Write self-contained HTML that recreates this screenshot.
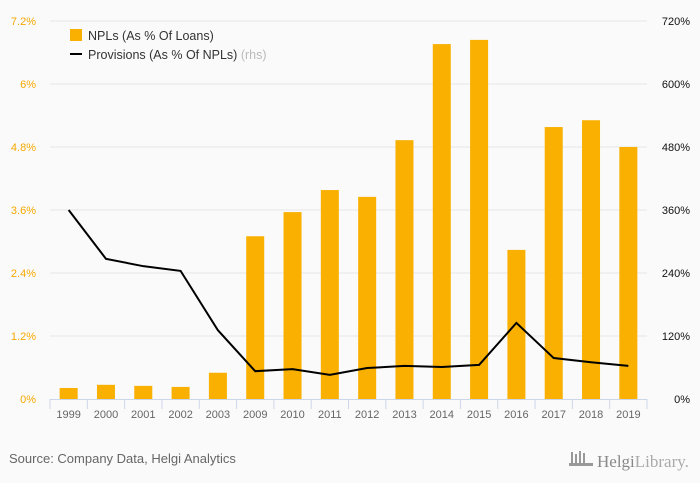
<!DOCTYPE html>
<html><head><meta charset="utf-8"><style>
body{margin:0;background:#fafafa;font-family:"Liberation Sans","DejaVu Sans",sans-serif;}
svg{display:block}
</style></head><body>
<svg id="chart" width="700" height="483" xmlns="http://www.w3.org/2000/svg">
<rect x="0" y="0" width="700" height="483" fill="#fafafa"/>
<g id="grid"></g>
<g id="bars"></g>
<g id="xaxis"></g>
<g id="yl"></g>
<g id="yr"></g>
<path id="line" fill="none" stroke="#000" stroke-width="2"/>
<g>
<rect x="70" y="29" width="12" height="12" fill="#f9b000"/>
<text x="88" y="40" font-size="12.5" fill="#333">NPLs (As % Of Loans)</text>
<rect x="70" y="53" width="12" height="2" fill="#000"/>
<text x="88" y="59" font-size="12.5" fill="#333">Provisions (As % Of NPLs) <tspan fill="#bbb">(rhs)</tspan></text>
</g>
<text x="9" y="463" font-size="13" fill="#666">Source: Company Data, Helgi Analytics</text>
<g>
<g fill="#999"><rect x="571" y="452" width="2" height="12"/><rect x="575" y="454" width="2" height="10"/><rect x="579" y="451" width="2" height="13"/><rect x="583" y="453" width="2" height="11"/><rect x="569" y="463" width="24" height="3"/></g>
<text x="597" y="467" font-size="17" fill="#888" font-family="Liberation Serif,serif">Helgi<tspan fill="#aaa">Library.</tspan></text>
</g>
</svg>
<script>
const years=['1999','2000','2001','2002','2003','2009','2010','2011','2012','2013','2014','2015','2016','2017','2018','2019'];
const npl=[0.21,0.27,0.25,0.23,0.50,3.10,3.56,3.98,3.85,4.93,6.76,6.84,2.84,5.18,5.31,4.80];
const prov=[360,267,253,244,131,53,57,46,59,63,61,65,145,78,70,63];
const leftTicks=['0%','1.2%','2.4%','3.6%','4.8%','6%','7.2%'];
const rightTicks=['0%','120%','240%','360%','480%','600%','720%'];
const NS='http://www.w3.org/2000/svg';
const x0=50,x1=647,yb=399,yt=21;
const bw=(x1-x0)/years.length;
const xc=i=>x0+bw*(i+0.5);
const yL=v=>yb-(v/7.2)*(yb-yt);
const yR=v=>yb-(v/720)*(yb-yt);
function mk(tag,attrs,parent,text){const e=document.createElementNS(NS,tag);for(const k in attrs)e.setAttribute(k,attrs[k]);if(text!==undefined)e.textContent=text;document.getElementById(parent).appendChild(e);return e;}
leftTicks.forEach((t,i)=>{
 const y=yb-i*(yb-yt)/6;
 if(i>0){const g=mk('line',{x1:x0,x2:x1,y1:y,y2:y,stroke:'#e6e6e6','stroke-width':1},'grid');
 
 }
 const l=mk('text',{x:36,y:y+4,'font-size':11,fill:'#f5a800','text-anchor':'end'},'yl',t);
 
 
 const r=mk('text',{x:690,y:y+4,'font-size':11,fill:'#111','text-anchor':'end'},'yr',rightTicks[i]);
 
 
});
const base=mk('line',{x1:x0,x2:x1,y1:yb+0.5,y2:yb+0.5,stroke:'#ccd6eb'},'xaxis');


years.forEach((yr,i)=>{
 const b=mk('rect',{x:xc(i)-9,y:yL(npl[i]),width:18,height:yb-yL(npl[i]),fill:'#f9b000'},'bars');
 
 
 const tk=mk('line',{x1:x0+bw*i,x2:x0+bw*i,y1:yb,y2:yb+10,stroke:'#ccd6eb'},'xaxis');
 
 
 const t=mk('text',{x:xc(i),y:418,'font-size':11,fill:'#666','text-anchor':'middle'},'xaxis',yr);
 
 
});
const tkEnd=mk('line',{x1:x1,x2:x1,y1:yb,y2:yb+10,stroke:'#ccd6eb'},'xaxis');


document.getElementById('line').setAttribute('d',prov.map((v,i)=>(i?'L':'M')+xc(i)+','+yR(v)).join(' '));
</script>
</body></html>
